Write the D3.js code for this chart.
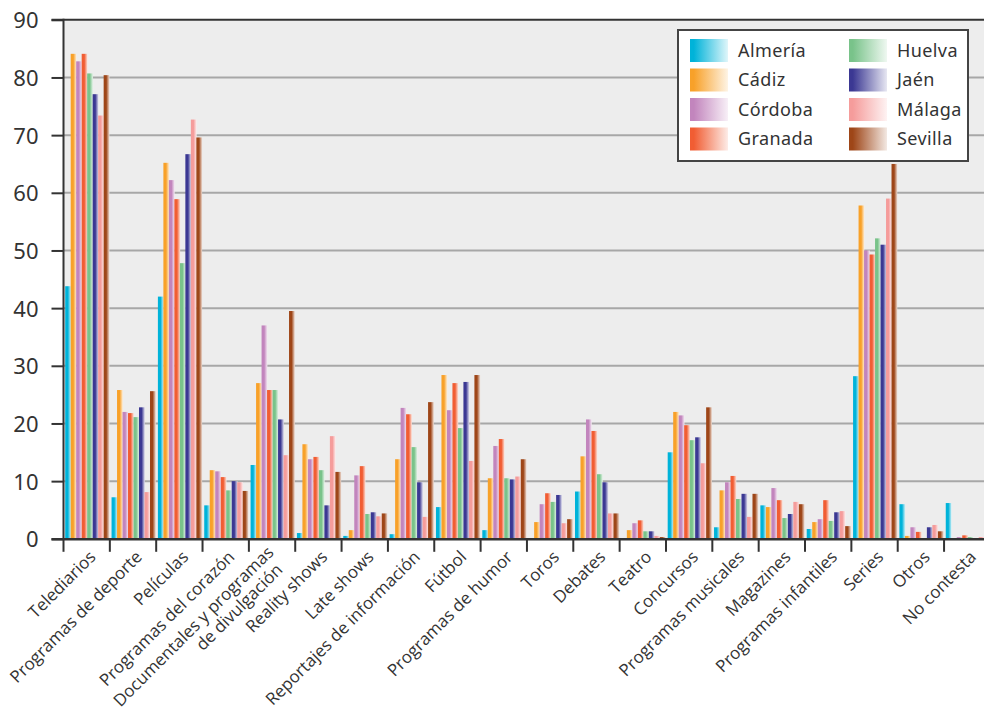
<!DOCTYPE html>
<html lang="es">
<head>
  <meta charset="utf-8">
  <title>Programas de televisión por provincia</title>
  <script src="https://d3js.org/d3.v7.min.js"></script>
</head>
<style>
  body { margin: 0; background: #fff; }
  .ylab { font-family: "Noto Sans", sans-serif; font-size: 22px; fill: #333; }
  .xlab { font-family: "Open Sans", sans-serif; font-size: 17px; fill: #333; }
  .leg { font-family: "Noto Sans", sans-serif; font-size: 18px; fill: #333; letter-spacing: 0.4px; }
</style>
<body>
<div class="chart"></div>
<script>
var categories = ["Telediarios", "Programas de deporte", "Películas", "Programas del corazón",
  "Documentales y programas|de divulgación", "Reality shows", "Late shows", "Reportajes de información",
  "Fútbol", "Programas de humor", "Toros", "Debates", "Teatro", "Concursos", "Programas musicales",
  "Magazines", "Programas infantiles", "Series", "Otros", "No contesta"];

var provinces = ["Almería", "Cádiz", "Córdoba", "Granada", "Huelva", "Jaén", "Málaga", "Sevilla"];
var colors = ["#00b3d9", "#f8a129", "#c285bd", "#f15d33", "#79c38a", "#3b3893", "#f59c9b", "#9e4618"];

var almeria = [43.8, 7.2, 42.0, 5.8, 12.8, 1.0, 0.5, 0.8, 5.5, 1.5, 0, 8.2, 0, 15.0, 2.0, 5.8, 1.7, 28.2, 6.0, 6.2];
var cadiz   = [84.1, 25.8, 65.2, 11.9, 27.0, 16.4, 1.5, 13.8, 28.4, 10.5, 2.9, 14.3, 1.5, 22.0, 8.4, 5.5, 2.9, 57.8, 0.5, 0];
var cordoba = [82.8, 22.0, 62.2, 11.7, 37.0, 13.8, 11.0, 22.7, 22.3, 16.1, 6.0, 20.7, 2.7, 21.4, 9.8, 8.8, 3.4, 50.0, 2.0, 0.3];
var granada = [84.1, 21.8, 58.9, 10.7, 25.8, 14.2, 12.6, 21.6, 27.0, 17.3, 7.9, 18.7, 3.2, 19.7, 10.9, 6.7, 6.7, 49.3, 1.2, 0.6];
var huelva  = [80.7, 21.1, 47.8, 8.4, 25.8, 11.9, 4.3, 15.9, 19.2, 10.5, 6.4, 11.2, 1.3, 17.1, 6.9, 3.6, 3.1, 52.1, 0, 0.3];
var jaen    = [77.1, 22.8, 66.7, 10.0, 20.7, 5.8, 4.6, 9.8, 27.2, 10.3, 7.6, 9.8, 1.3, 17.6, 7.8, 4.3, 4.6, 51.0, 2.0, 0];
var malaga  = [73.4, 8.1, 72.7, 9.8, 14.5, 17.8, 3.9, 3.8, 13.5, 10.8, 2.7, 4.4, 0.5, 13.1, 3.8, 6.4, 4.8, 59.0, 2.4, 0.3];
var sevilla = [80.4, 25.6, 69.6, 8.3, 39.5, 11.6, 4.4, 23.7, 28.4, 13.8, 3.4, 4.4, 0.3, 22.8, 7.8, 6.0, 2.2, 65.0, 1.3, 0.2];
var seriesValues = [almeria, cadiz, cordoba, granada, huelva, jaen, malaga, sevilla];

var yTicks = [0, 10, 20, 30, 40, 50, 60, 70, 80, 90];

var width = 984, height = 708;
var plotLeft = 63.5, plotRight = 990.4, plotTop = 19.8, plotBottom = 538.8;

var svg = d3.select(".chart").append("svg")
  .attr("width", width)
  .attr("height", height);

var defs = svg.append("defs");
provinces.forEach(function(p, i) {
  var pale = d3.interpolateRgb(colors[i], "#ffffff")(0.82);
  var g = defs.append("linearGradient").attr("id", "bar" + i)
    .attr("x1", "0").attr("x2", "1").attr("y1", "0").attr("y2", "0");
  g.append("stop").attr("offset", "0").attr("stop-color", colors[i]);
  g.append("stop").attr("offset", "0.45").attr("stop-color", colors[i]);
  g.append("stop").attr("offset", "1").attr("stop-color", pale);
  var lg = defs.append("linearGradient").attr("id", "leg" + i)
    .attr("x1", "0").attr("x2", "1").attr("y1", "0").attr("y2", "0");
  lg.append("stop").attr("offset", "0").attr("stop-color", colors[i]);
  lg.append("stop").attr("offset", "0.1").attr("stop-color", colors[i]);
  lg.append("stop").attr("offset", "1").attr("stop-color", d3.interpolateRgb(colors[i], "#ffffff")(0.88));
});

var x = d3.scaleBand().domain(categories).range([plotLeft, plotRight]).padding(0);
var xs = d3.scaleBand().domain(provinces).range([1.7, x.bandwidth() - 0.7]).padding(0);
var y = d3.scaleLinear().domain([0, 90]).range([plotBottom, plotTop]);

// plot background
svg.append("rect")
  .attr("x", plotLeft).attr("y", plotTop)
  .attr("width", plotRight - plotLeft).attr("height", plotBottom - plotTop)
  .attr("fill", "#ededed");

// grid lines
svg.append("g").selectAll("line")
  .data(yTicks.filter(function(d) { return d > 0 && d < 90; }))
  .enter().append("line")
  .attr("x1", plotLeft).attr("x2", plotRight)
  .attr("y1", function(d) { return y(d); })
  .attr("y2", function(d) { return y(d); })
  .attr("stroke", "#a7a7a7")
  .attr("stroke-width", 2);

// bars
var groups = svg.append("g").selectAll("g")
  .data(categories)
  .enter().append("g")
  .attr("transform", function(d) { return "translate(" + x(d) + ",0)"; });

groups.selectAll("rect")
  .data(function(d, ci) {
    return provinces.map(function(p, si) { return { p: p, si: si, v: seriesValues[si][ci] }; });
  })
  .enter().append("rect")
  .attr("x", function(d) { return xs(d.p); })
  .attr("width", xs.bandwidth() + 0.3)
  .attr("y", function(d) { return y(d.v); })
  .attr("height", function(d) { return y(0) - y(d.v); })
  .attr("fill", function(d) { return "url(#bar" + d.si + ")"; });

// y axis
var yAxis = svg.append("g")
  .attr("transform", "translate(" + plotLeft + ",0)")
  .call(d3.axisLeft(y).tickValues(yTicks).tickSize(12).tickPadding(13));
yAxis.select(".domain").remove();
yAxis.selectAll(".tick line").attr("stroke", "#333").attr("stroke-width", 2);
yAxis.selectAll(".tick text").attr("class", "ylab").attr("dy", "0.36em");

// frame lines
svg.append("line")
  .attr("x1", plotLeft).attr("x2", plotLeft).attr("y1", plotTop - 1).attr("y2", plotBottom + 1)
  .attr("stroke", "#333").attr("stroke-width", 2);
svg.append("line")
  .attr("x1", plotLeft - 12).attr("x2", plotRight).attr("y1", plotTop).attr("y2", plotTop)
  .attr("stroke", "#333").attr("stroke-width", 2);
svg.append("line")
  .attr("x1", plotLeft - 12).attr("x2", plotRight).attr("y1", plotBottom + 0.5).attr("y2", plotBottom + 0.5)
  .attr("stroke", "#333").attr("stroke-width", 2.5);

// x ticks at band edges
svg.append("g").selectAll("line")
  .data(categories)
  .enter().append("line")
  .attr("x1", function(d) { return x(d); })
  .attr("x2", function(d) { return x(d); })
  .attr("y1", plotBottom).attr("y2", plotBottom + 13)
  .attr("stroke", "#333").attr("stroke-width", 2);

// x labels
var labels = svg.append("g").selectAll("text")
  .data(categories)
  .enter().append("text")
  .attr("class", "xlab")
  .attr("text-anchor", "end")
  .attr("transform", function(d) {
    var cx = x(d) + x.bandwidth() / 2 + 10;
    return "translate(" + cx + "," + 558 + ") rotate(-45)";
  });

labels.each(function(d) {
  var parts = d.split("|");
  var t = d3.select(this);
  if (parts.length === 1) {
    t.text(d);
  } else {
    t.append("tspan").attr("x", -2).attr("dy", "-0.5em").text(parts[0]);
    t.append("tspan").attr("x", -8).attr("dy", "1.1em").text(parts[1]);
  }
});

// legend
var legend = svg.append("g").attr("transform", "translate(678,30)");
legend.append("rect")
  .attr("width", 290).attr("height", 131)
  .attr("fill", "#fff").attr("stroke", "#444").attr("stroke-width", 2);

var items = legend.selectAll(".item")
  .data(provinces)
  .enter().append("g")
  .attr("class", "item")
  .attr("transform", function(d, i) {
    return "translate(" + (i < 4 ? 12 : 171) + "," + (9 + (i % 4) * 29.5) + ")";
  });
items.append("rect")
  .attr("width", 38).attr("height", 23)
  .attr("fill", function(d, i) { return "url(#leg" + i + ")"; });
items.append("text")
  .attr("class", "leg")
  .attr("x", 48).attr("y", 11.5).attr("dy", "0.36em")
  .text(function(d) { return d; });
</script>
</body>
</html>
